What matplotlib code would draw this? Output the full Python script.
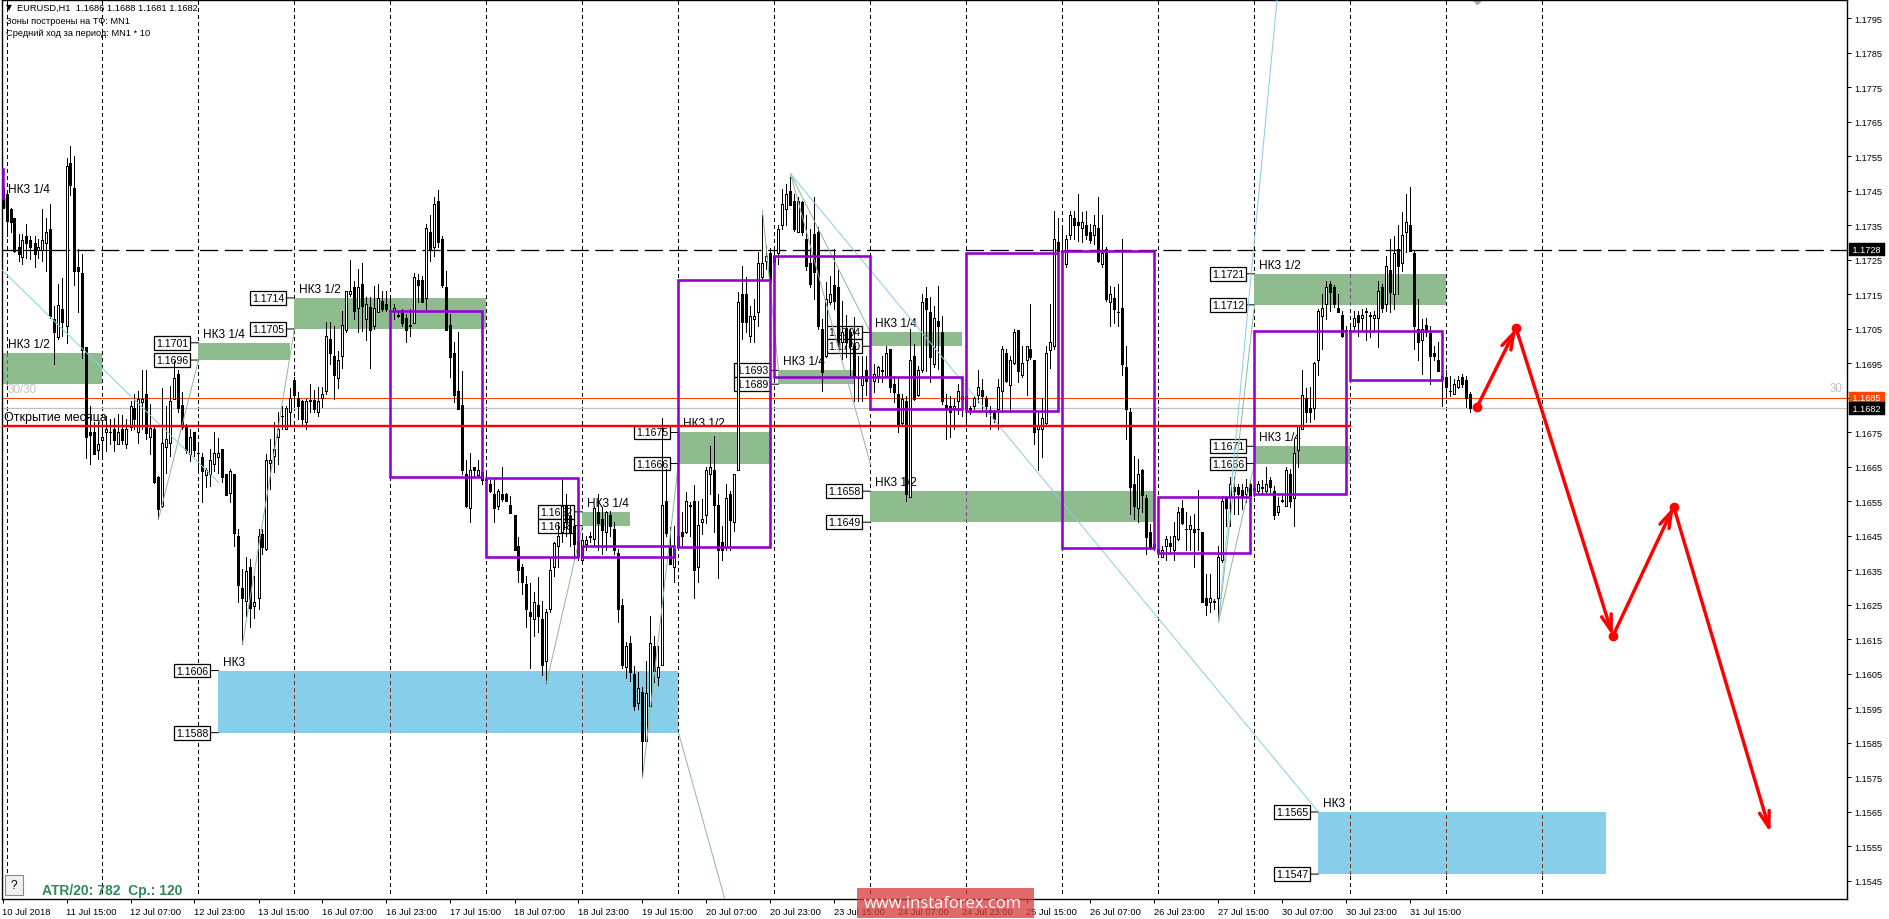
#!/usr/bin/env python3
"""EURUSD H1 chart with zones, monthly open line and forecast arrows."""

import numpy as np
import matplotlib
matplotlib.use("Agg")
import matplotlib.pyplot as plt
from matplotlib.collections import LineCollection
from matplotlib.patches import Rectangle

W, H = 1889, 920
PX = 0.72  # one pixel in points at dpi 100

# candles in pips above 1.1500
OPEN = [
    246,244,239.9,237.1,228.9,226,232,230.8,230,227.9,
    227.9,230,234.1,208,202.8,210.9,205.9,253,246,223.1,
    221.2,199.9,175,175,170,172.9,175,175.2,176,171.6,
    176,171.6,176.7,182,175,183.9,186.1,173.8,176,162,
    153.7,170.9,171.9,184.8,191.9,182.9,176.9,168.7,175,169.2,
    168,162.6,162.9,165.8,168,170.2,162.9,157.6,162.9,144.9,
    129.9,126.2,135.9,124.8,126.9,145.6,141.3,166.2,168.1,173.6,
    179.9,175.9,180.9,190.2,184.9,184,178,184.3,184.3,180.9,
    184.9,186.9,202.1,197.1,190.9,197.1,204.8,215,217.1,211,
    218,207.9,211.3,206,210,213.2,212.3,210.3,210.6,209.1,
    210.3,208.1,206.2,206.8,219.2,219.2,213.9,233,228.7,242,
    231.1,217.1,206.2,198,187,183,163,153,164.9,162.7,
    163.5,161.6,160.1,157.2,153.8,157.2,157.2,154,151.1,142,
    135.9,131.1,122.9,120.8,125,121,108.9,123.8,135.9,142,
    146.1,153.8,150.9,148,139.3,137.9,142.7,144.9,144,151.9,
    149.9,146.1,151.1,147,140.1,125,106.9,114,105,96.6,
    99.9,85.7,95.8,113,104,107.6,155.1,142,135.9,141.7,
    146.1,146.1,154,155,135.9,149,151.1,163,164.2,154,
    143.2,141.7,157.2,149,164,215.2,215.2,203.1,207.9,210,
    220,224.8,227,224.4,227,235,239.8,245.1,242,233,
    241.7,231.1,224.2,232.6,233,205,197.3,212.9,217.8,217.1,
    201.2,205,204,200.2,191,188.8,193.2,191,190,191.5,
    193.1,191.5,199.2,189.1,186.2,177.8,184.2,156.2,197.1,185.9,
    193,213.9,210,194.9,207.2,204,183,182.8,182,184,
    185.7,185.7,182,182.8,185.9,187.2,184.9,181.4,180.9,181.8,
    186.9,198.1,188.8,195.1,204.8,191.7,195.9,199.2,195.9,175.9,
    175.9,177.8,199,200,230.1,227.2,223.9,232.1,237.1,236.1,
    234.2,235.2,233,232.1,234.2,223.9,228.2,212.9,213.9,210,
    211,193.9,180.9,160.1,153,164,156,146.1,142.7,141.3,
    138.9,142,143,140.8,144,153,147.1,146.9,147.1,147.1,
    146.1,127,126,126.1,127,137.9,156.2,156.2,159.1,159.1,
    158.2,157.2,160.1,158.9,157.9,159.1,157.9,161.1,157.9,151.9,
    155.3,153.8,163,156,170,176,184.9,182,182,195.9,
    208.9,212.3,218.1,217.1,211,209.1,204.3,204.1,206,209.1,
    208.1,210.1,209.1,208.1,208.1,217.1,212.3,222.1,215.1,228.2,
    224.2,233,235.2,227,205,201.9,206.2,203.9,198.1,196,
    191.5,191,187.1,186.2,188.1,191,190.2,186.2,
]
CLOSE = [
    240.2,236.3,235.9,227.6,226.7,230.8,230,228.9,226.7,228.9,
    230.8,233,208.8,204,212,206.9,252.1,246.8,221.8,221.8,
    199,173.8,174.4,168.7,171.6,173.8,176,175,172.9,175,
    172.9,176,182.7,178.9,184.7,184.8,174.8,176.4,160.7,152.8,
    171.9,173.1,184,190.9,182,176.7,170,173.8,170,169,
    163.9,164.2,167.1,169,169,162,156.8,163.9,145.8,130.8,
    126.9,134.9,124,126,144.9,141.8,166.9,166.9,170.2,176,
    179.7,182,184.9,185.9,182.8,178.9,184,184,181.8,184,
    186.2,202.9,197.9,191.7,196,206.2,215.9,215.9,210.2,217.1,
    211.6,212.3,204.8,211,213.9,210.8,210.8,210.1,211,208.9,
    206.8,204.8,206,220,217.8,212.9,234.2,228,241.2,230.1,
    217.8,204.8,197,185.9,181.8,164,153.8,164,164,164,
    161.1,161.1,158,153.1,158,155.7,155,151.7,140.8,135,
    131.8,123.8,121.9,126,121.9,107.6,122.9,135,142.9,144.9,
    153.8,149,146.3,142.7,143.6,143.9,143.9,144.7,153,148.8,
    146.8,151.9,148,140.8,123.8,107.6,113,105.7,95.8,100.9,
    85.7,99.5,113.9,106,106.9,154,145.9,136.9,141.2,145.1,
    144.9,155,153.8,135,148.2,149.9,164.2,164.9,154,140.8,
    140.8,156,149.7,163,212.9,207,207,208.9,208.9,224.2,
    224,226.1,219,226.3,234,241.2,244.2,241,234,242.2,
    233,223.2,218.1,221.6,206,192.5,213.7,215.2,213.2,201.2,
    204,201.2,200.2,191,190.8,191.3,190,190.8,192,193.9,
    192.9,198.1,188.1,186.7,177,184.7,157.2,195.9,184.7,193,
    212.9,210.8,196.8,208.1,206,184,181.8,180.9,182.8,186.9,
    184.7,181.8,181.8,184.9,188.1,185.7,182.8,180.9,178.8,188.1,
    199.2,190,195.9,204,192.9,195.1,200,196.8,175.1,177.2,
    179.1,198.1,201.2,231.1,227.7,227.7,231.1,238.1,235,235,
    236,232.1,230.9,235.2,224.8,227,213.7,215.2,210.8,209.8,
    194.9,181.8,159.1,153.8,163,156.9,144.7,141.8,141.8,140.3,
    140.8,144,142,145,152,148.8,146.9,148.2,146.1,146.9,
    126,124.9,127,125.9,138.9,155,153,160.1,157.9,157.2,
    156.7,159.1,156.7,158.2,160.1,158.9,160.1,159.1,151,153.8,
    155.1,164,155,169.1,177,185.9,180.9,180.9,195.2,210.1,
    211,217.1,215.8,212.2,210,202.9,204.8,204.8,208.1,207,
    209.1,209.9,208.9,209.1,215.9,211,223.2,215.8,227.1,223.2,
    232.3,235.9,227.7,206,201.2,205,204,197.1,197.1,192.9,
    190.5,188.1,186.9,189.1,190.2,189.1,184.9,182,
]
HIGH = [
    246,244.5,240.2,237.3,232.5,232.5,235.4,232,232,231,
    239.9,237.3,241.2,211.7,218,219.9,254.7,258,255.2,228.1,
    226.7,199.9,182.7,177.9,177.9,176.9,179.8,179,179.3,180.3,
    180,178.9,184.2,186.1,187.1,193.2,193.2,183.2,176.9,162.4,
    188,182.7,188.5,195.8,193.2,186.6,177.4,176,175,172.1,
    169.2,164.8,170.2,175,173.5,170.2,162.9,164.4,162.9,147,
    135.4,138.8,138.3,133.5,147,147,168.8,173.1,178,180.9,
    182.8,182.6,187.8,191,186.7,184.3,184.7,189,187.2,188.1,
    188.1,207,207,206,198.7,210.1,215.9,225.1,219,222.4,
    224.2,214.2,214.2,217.6,218,216.1,216.1,214.2,212.3,210.3,
    210.8,209.4,210.8,221.3,221,220.3,235.5,237.9,243.2,245.3,
    232,221.9,209.4,201.2,204,192.9,166.9,169.1,164.9,166.9,
    164.9,163,161.1,161.6,158.7,164.9,157.4,156.7,151.1,144.6,
    136.9,133.5,131.4,128.7,133,126.3,123.8,138.8,143.2,149,
    161.5,157.2,153.8,150.9,148,145.1,145.1,146.1,153.3,157.2,
    153.3,152.3,152.3,149,141.2,126.7,114.2,115.9,107.4,105.5,
    101.1,108.9,121.9,116.1,113.2,179.1,164.4,147.5,148,146.1,
    151.9,157.7,154.9,159.8,155.2,155.7,164.9,171,174.1,157.2,
    148,160,158.1,163,215.7,223.4,220,211.8,213.7,227.2,
    237.9,229.2,228.4,228.2,235,245.6,247,249,244.2,243.2,
    242.2,237.9,234,243.2,234.5,207.9,218.6,220.3,228.2,222,
    213.2,209.1,205,208.4,197.3,197.3,197.1,195.4,194.9,194.4,
    197.3,200.2,199.2,191.5,191,186.2,185.7,205,200.7,194.4,
    215.2,217.1,214.2,211.8,217.4,208.9,186.2,185.7,184.7,189.1,
    190.5,186.2,182.8,185.7,193,190.5,185.7,182.8,181.4,190.5,
    200.2,199.2,197.3,205,204.8,200.2,200,212.3,195.9,180.9,
    185,200.2,212.3,239.3,237.1,234.5,232.1,239.3,239.3,244.2,
    238.8,239.3,235.5,237.9,243.2,238,228.7,217.6,217.1,218.1,
    231.1,200.2,182,168.3,167.4,164.5,156.9,148.5,143.2,142.7,
    142.2,145.1,145.1,149,153.3,155.3,151.9,150.9,151.4,158.2,
    146.1,134,134,126.8,142,156.7,156.7,162,162,160.1,
    160.1,161.6,161.1,161.5,160.8,161.1,164.9,162,159.6,156.3,
    157.2,165,164.5,173.2,177,193.2,187.8,188.1,195.4,210.8,
    215.2,219,219,217.8,215.2,210.3,206,206.2,210.3,210.3,
    210.8,211,209.9,210.3,219,218,226.1,231.1,232,235.2,
    238.8,244.2,246.1,227.7,213.7,207.9,208.1,206,200.2,201.2,
    193,193,191.5,190.5,191.5,192,191.5,186.7,
]
LOW = [
    240,232,233,227.2,224.7,223.8,225.7,225.2,223.1,225.7,
    224.7,221.8,208.3,194.8,202,203,200.9,243.8,217.7,209.8,
    196.7,167.7,165.8,168.7,167.3,168.2,169.7,171.6,169.7,171.6,
    171.6,170.6,175.8,176,171.9,176,173.1,168.7,160.5,149.9,
    153.3,163.4,168.2,184.7,180.8,176,169.2,166.8,168.2,163.4,
    154.9,159.1,159.5,163.9,163.4,160.7,156.8,154.9,142,125.8,
    113.7,121.9,118.5,121.1,123.8,139.8,140.8,158.7,163.5,165.9,
    176,175.9,177.5,182.8,179,177,175.9,180.9,180.9,179.9,
    182.3,186.2,194.9,184.7,187.8,193.8,204,214.7,207.9,204,
    204.5,201.8,193.8,205,210,210.3,210.3,207.9,207.9,208.4,
    206,201.2,202.9,206.8,212.8,212.8,210.8,224.8,226.1,228.7,
    217.1,204.8,191,183.8,181.8,163,153.3,149,162.5,162,
    160.1,159.1,157.7,149,152.9,155,155,151.7,140.8,131.8,
    128.2,118.5,106.7,115.9,117.1,104.7,102.4,122.9,133.5,135.9,
    143.2,145.1,142.2,138.3,137.9,137.9,140.8,143.2,142.2,140.8,
    139.8,140.8,145.1,139.8,120,106.7,103.8,103.1,94.7,94.9,
    75.1,85.7,95.8,102.8,101.8,107.6,145.1,136.9,131.8,141.7,
    142.2,145.9,145.1,126.9,131.8,145.6,148.8,157.2,146.1,132.8,
    137.9,140.8,140.8,146.5,164,202.1,204,201.2,201.2,206,
    219,222.4,218.6,223.9,223.9,234,235,241,233.5,233,
    232.1,222,217.1,213.7,205,186.9,196.8,212.3,210.8,200.2,
    196.3,196.8,191.5,184,184,184,185.9,188.6,186.7,189.6,
    189.6,191,186.7,183.8,175.1,177,155,156.2,184.3,185.7,
    192.5,192.7,189.6,193.9,193.4,183.3,173.2,173.6,176,180.4,
    179.9,178,180.4,181.8,183.8,181.8,179.9,176,178,176,
    180.9,189.6,180.9,194.9,189.6,191,185.9,196.3,171.7,164,
    167.8,177.2,193.6,199.2,227.2,226.3,222.9,231.1,231.1,230.6,
    230.1,231.1,230,229.7,224.4,222.9,213.2,206,206.8,206,
    191.7,173,151.4,150,149,152,139.8,141.3,140.8,139.8,
    138.9,137.9,140.3,137.9,143.7,148.5,140.8,140.8,136,140.8,
    125.8,122,122.9,123.9,120,137.4,148,148,151.4,151.4,
    152.9,154.8,153.3,156.7,157.2,157.2,157.7,157.7,149.8,151,
    154.8,153.6,153.4,148,165,176,178,178,179,191.7,
    199.2,207.9,210.3,211.3,209.9,202.6,202.9,203.6,205,203.1,
    204.8,201.9,202.6,204,199.7,209.9,210.3,210,210.8,215.2,
    221.9,227.2,227.7,199.2,195.9,192,203.1,189.1,195.9,192.7,
    182.8,185.2,185.7,186.2,187.8,188.1,182.3,180.9,
]

# time axis: a label every 16 bars, a day separator every 24
TIME_LABELS = [
    "10 Jul 2018", "11 Jul 15:00", "12 Jul 07:00", "12 Jul 23:00", "13 Jul 15:00",
    "16 Jul 07:00", "16 Jul 23:00", "17 Jul 15:00", "18 Jul 07:00", "18 Jul 23:00",
    "19 Jul 15:00", "20 Jul 07:00", "20 Jul 23:00", "23 Jul 15:00", "24 Jul 07:00",
    "24 Jul 23:00", "25 Jul 15:00", "26 Jul 07:00", "26 Jul 23:00", "27 Jul 15:00",
    "30 Jul 07:00", "30 Jul 23:00", "31 Jul 15:00",
]
DAY_BARS = list(range(1, 400, 24))
PRICE_TICKS = [round(1.1795 - 0.001 * k, 4) for k in range(26)]

# green zones (bars and prices)
GREEN_START = [0, 0, 49, 73, 145, 169, 194, 217, 217, 313, 313]
GREEN_END = [1, 25, 72, 121, 157, 192, 213, 240, 288, 361, 337]
GREEN_TOP = [1.1743, 1.1698, 1.1701, 1.1714, 1.1652, 1.1675, 1.1693, 1.1704, 1.1658, 1.1721, 1.1671]
GREEN_BOTTOM = [1.1740, 1.1689, 1.1696, 1.1705, 1.1648, 1.1666, 1.1689, 1.1700, 1.1649, 1.1712, 1.1666]
GREEN_NAME = ["НК3 1/4", "НК3 1/2", "НК3 1/4", "НК3 1/2", "НК3 1/4", "НК3 1/2", "НК3 1/4",
              "НК3 1/4", "НК3 1/2", "НК3 1/2", "НК3 1/4"]
# blue zones
BLUE_START = [54, 329]
BLUE_END = [169, 401]
BLUE_TOP = [1.1606, 1.1565]
BLUE_BOTTOM = [1.1588, 1.1547]
BLUE_NAME = ["НК3", "НК3"]

# purple boxes
BOX_START = [97, 121, 145, 169, 193, 217, 241, 265, 289, 313, 337]
BOX_END = [120, 144, 168, 192, 217, 240, 264, 288, 312, 336, 360]
BOX_TOP = [1.17103, 1.16618, 1.1642, 1.17192, 1.17263, 1.1691, 1.1727, 1.17276, 1.16563, 1.17043, 1.17043]
BOX_BOTTOM = [1.1662, 1.16389, 1.16388, 1.16419, 1.1691, 1.16817, 1.16813, 1.16416, 1.164, 1.16573, 1.16903]

# thin guide lines: (bar, pips) pairs
GREEN_GUIDES = [
    [(39, 149.9), (49, 196)], [(60, 113.7), (73, 205)], [(136, 102.4), (145, 148)],
    [(160, 74.9), (169, 166.3)], [(169, 88), (181, 38)], [(190, 239.4), (194, 193)],
    [(197, 250), (217, 204)], [(197, 250), (217, 165.8)], [(304, 120), (313, 212)],
    [(304, 120), (313, 166)],
]
BLUE_GUIDES = [
    [(0, 222), (54, 160.6)], [(197, 250), (329, 65)], [(304, 120), (319, 305)],
]

# forecast path
FORECAST_BARS = [368.6, 378.4, 402.6, 417.8, 442]
FORECAST_PIPS = [182.3, 205.2, 116, 153.5, 59]

MONTH_OPEN = 1.1677
MONTH_OPEN_END = 337
LEVEL_DASHED = 1.1728
LEVEL_RED = 1.1685
LEVEL_BID = 1.1682


def pip(v):
    return 1.15 + np.asarray(v) / 1e4


def fpos(x, y):
    # pixel position in the image -> figure fraction
    return x / W, 1 - y / H


plt.rcParams["font.family"] = ["Liberation Sans", "DejaVu Sans"]
plt.rcParams["axes.linewidth"] = 1.0

fig = plt.figure(figsize=(W / 100, H / 100), dpi=100, facecolor="white")
ax = fig.add_axes([2 / W, 20 / H, 1845 / W, 899 / H])
ax.set_xlim(-0.125, 461.125)
ax.set_ylim(1.153978, 1.180036)

ax.yaxis.tick_right()
ax.set_yticks(PRICE_TICKS)
ax.set_yticklabels([f"{p:.4f}" for p in PRICE_TICKS], fontsize=6.6)
ax.tick_params(axis="y", length=3, width=PX, pad=2.5)
ax.set_xticks(np.arange(len(TIME_LABELS)) * 16)
ax.set_xticklabels(TIME_LABELS, fontsize=6.7, ha="left")
ax.tick_params(axis="x", length=3, width=PX, pad=2.5)

# day separators sit behind the zones; tinted pieces go on top of the zones
for d in DAY_BARS:
    ax.plot([d, d], [1.15415, 1.18004], color="black", lw=PX, dashes=(3, 3), zorder=0.5, antialiased=False)


def draw_zones(start, end, top, bottom, names, color, tint, tag_from):
    for k in range(len(start)):
        ax.add_patch(Rectangle((start[k], bottom[k]), end[k] - start[k], top[k] - bottom[k],
                               facecolor=color, edgecolor="none", zorder=1))
        for d in DAY_BARS:
            if start[k] < d < end[k]:
                ax.plot([d, d], [bottom[k], top[k]], color=tint, lw=PX, dashes=(3, 3), zorder=1.5,
                        antialiased=False)
        ax.annotate(names[k], xy=(start[k], top[k]), xytext=(5, 9), textcoords="offset pixels",
                    ha="left", va="center", fontsize=8.6, color="black", zorder=2.6)
        if k < tag_from:
            continue
        for price in (top[k], bottom[k]):
            ax.annotate(f"{price:.4f}", xy=(start[k], price), xytext=(-10, 0), textcoords="offset pixels",
                        ha="right", va="center", fontsize=7.6, color="black", zorder=2.5,
                        bbox=dict(boxstyle="square,pad=0.18", facecolor="white", edgecolor="black", linewidth=0.9),
                        arrowprops=dict(arrowstyle="-", color="black", lw=PX, shrinkA=0, shrinkB=0))


draw_zones(GREEN_START, GREEN_END, GREEN_TOP, GREEN_BOTTOM, GREEN_NAME, "#8fbc8f", "#7a4a8a", 2)
draw_zones(BLUE_START, BLUE_END, BLUE_TOP, BLUE_BOTTOM, BLUE_NAME, "#87ceeb", "#7a3a20", 0)

# price levels
ax.axhline(LEVEL_RED, color="#ff4500", lw=PX, zorder=2.4)
ax.axhline(LEVEL_BID, color="#c0c0c0", lw=PX * 1.2, zorder=2.4)
ax.axhline(LEVEL_DASHED, color="black", lw=PX * 1.3, dashes=(14, 5), zorder=2.4)
ax.plot([0, 16], [LEVEL_DASHED, LEVEL_DASHED], color="black", lw=PX, zorder=2.4)

# candles: thin outlines so the white bodies stay open
bars = np.arange(len(OPEN))
op, cl, hi, lo = pip(OPEN), pip(CLOSE), pip(HIGH), pip(LOW)
wicks = LineCollection([[(b, l), (b, h)] for b, l, h in zip(bars, lo, hi)], colors="black",
                       linewidths=0.6, zorder=3, antialiaseds=False)
ax.add_collection(wicks)
up = cl >= op
ax.bar(bars[up], (cl - op)[up], bottom=op[up], width=0.5, facecolor="white", edgecolor="black",
       linewidth=0.6, zorder=3.1, antialiased=False)
ax.bar(bars[~up], (cl - op)[~up], bottom=op[~up], width=0.5, facecolor="black", edgecolor="black",
       linewidth=0.6, zorder=3.1, antialiased=False)

# guides
for seg in GREEN_GUIDES:
    ax.plot([seg[0][0], seg[1][0]], pip([seg[0][1], seg[1][1]]), color="#8fbc8f", lw=PX, zorder=3.5)
for seg in BLUE_GUIDES:
    ax.plot([seg[0][0], seg[1][0]], pip([seg[0][1], seg[1][1]]), color="#87ceeb", lw=PX, zorder=3.5)

# purple boxes
for a, b, t, m in zip(BOX_START, BOX_END, BOX_TOP, BOX_BOTTOM):
    ax.add_patch(Rectangle((a, m), b - a, t - m, facecolor="none", edgecolor="#9400d3", linewidth=PX * 2.6,
                           zorder=4, joinstyle="miter"))
ax.plot([0, 0], pip([251.3, 243]), color="#9400d3", lw=PX * 2.6, zorder=4)

# monthly open
ax.plot([0, MONTH_OPEN_END], [MONTH_OPEN, MONTH_OPEN], color="red", lw=PX * 2.4, zorder=4.5)
ax.annotate("Открытие месяца", xy=(0, MONTH_OPEN), xytext=(1, 9), textcoords="offset pixels",
            ha="left", va="center", fontsize=9, color="black", zorder=4.6)

# forecast arrows
fx, fy = np.array(FORECAST_BARS), pip(FORECAST_PIPS)
ax.plot(fx[:-1], fy[:-1], ls="none", marker="o", ms=6, color="red", zorder=5)
for k in range(len(fx) - 1):
    ax.annotate("", xy=(fx[k + 1], fy[k + 1]), xytext=(fx[k], fy[k]), zorder=5,
                arrowprops=dict(arrowstyle="->,head_length=1.15,head_width=0.36", mutation_scale=10,
                                color="red", lw=PX * 3.4, shrinkA=0, shrinkB=0))

# small gray mark on the top edge
ax.plot([368.6], [1.180036], marker="D", ms=4.5, color="#a8a8a8", zorder=2)

# price tags on the scale
for price, box, txt in [(LEVEL_DASHED, "black", "white"), (LEVEL_RED, "#ff4500", "white"), (LEVEL_BID, "black", "white")]:
    ax.annotate(f" {price:.4f} ", xy=(1, price), xycoords=ax.get_yaxis_transform(), xytext=(3.5, 0),
                textcoords="offset pixels", ha="left", va="center", fontsize=6.6, color=txt, zorder=6,
                annotation_clip=False,
                bbox=dict(boxstyle="square,pad=0.2", facecolor=box, edgecolor=box, linewidth=0.3))

# header text
x, y = fpos(9, 8)
fig.text(x, y, "▼", fontsize=5.5, ha="center", va="center", color="black", family="DejaVu Sans")
x, y = fpos(17, 8.7)
fig.text(x, y, "EURUSD,H1  1.1686 1.1688 1.1681 1.1682", fontsize=6.7, ha="left", va="center")
x, y = fpos(5.5, 21.7)
fig.text(x, y, "Зоны построены на ТФ: MN1", fontsize=6.7, ha="left", va="center")
x, y = fpos(5.5, 33)
fig.text(x, y, "Средний ход за период: MN1 * 10", fontsize=6.7, ha="left", va="center")

x, y = fpos(8, 390)
fig.text(x, y, "30/30", fontsize=8.4, color="#c0c0c0", ha="left", va="center")
x, y = fpos(1842, 389)
fig.text(x, y, "30", fontsize=8.4, color="#c0c0c0", ha="right", va="center")

# help button and ATR readout
fig.patches.append(Rectangle(fpos(4.5, 896), 18.5 / W, 20 / H, transform=fig.transFigure, facecolor="#f0f0f0",
                             edgecolor="#8a8a8a", linewidth=0.8, zorder=7))
x, y = fpos(13.7, 886)
fig.text(x, y, "?", fontsize=8.5, ha="center", va="center", zorder=8)
x, y = fpos(42, 891)
fig.text(x, y, "ATR/20: 782  Ср.: 120", fontsize=10, fontweight="bold", color="#2e8b57", ha="left", va="center", zorder=8)

# watermark
fig.patches.append(Rectangle(fpos(856.6, 919), 177.4 / W, 30 / H, transform=fig.transFigure, facecolor="#d83a3a",
                             edgecolor="none", alpha=0.75, zorder=9))
x, y = fpos(943, 904)
fig.text(x, y, "www.instaforex.com", fontsize=12, color="white", ha="center", va="center", family="Open Sans", zorder=10)

fig.savefig("out.png", dpi=100, facecolor="white")
